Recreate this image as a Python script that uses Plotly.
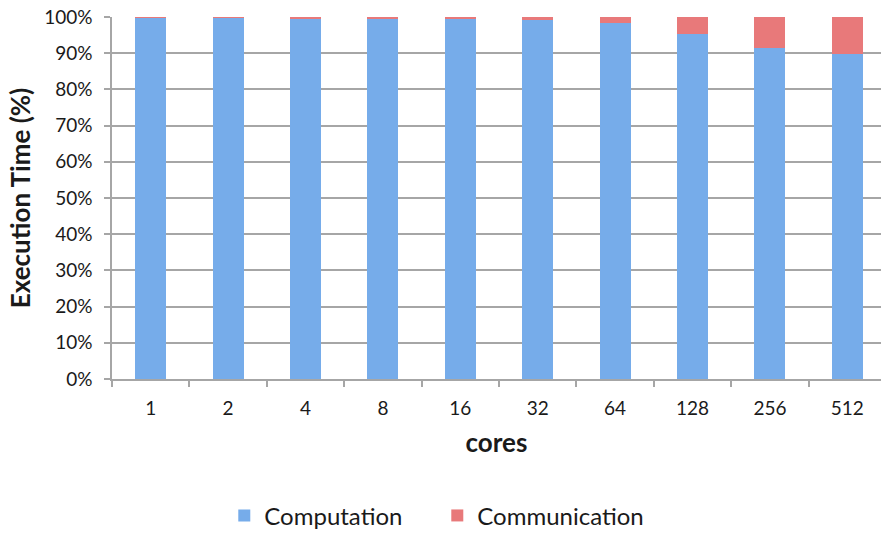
import plotly.graph_objects as go

# Share of total execution time per core count (percent)
cores = ["1", "2", "4", "8", "16", "32", "64", "128", "256", "512"]
computation = [99.9, 99.8, 99.7, 99.5, 99.4, 99.1, 98.3, 95.3, 91.3, 89.7]
communication = [0.1, 0.2, 0.3, 0.5, 0.6, 0.9, 1.7, 4.7, 8.7, 10.3]
y_ticks = list(range(0, 101, 10))
y_tick_labels = [f"{v}%" for v in y_ticks]

FONT = "Lato"
GRID = "#a6a6a6"

fig = go.Figure()
fig.add_trace(go.Bar(
    x=cores, y=computation, name="Computation",
    marker=dict(color="#76acea", line=dict(width=0)),
))
fig.add_trace(go.Bar(
    x=cores, y=communication, name="Communication",
    marker=dict(color="#e8797a", line=dict(width=0)),
))

fig.update_layout(
    width=881, height=533,
    barmode="stack",
    bargap=0.6,
    plot_bgcolor="white",
    paper_bgcolor="white",
    margin=dict(l=112, r=0, t=17, b=154, autoexpand=False),
    font=dict(family=FONT, size=18, color="#1a1a1a"),
    showlegend=True,
    legend=dict(
        orientation="h",
        x=0.423, xanchor="center",
        y=-0.378, yanchor="middle",
        font=dict(size=24, family=FONT, color="#1a1a1a"),
        itemsizing="constant",
        traceorder="normal",
        entrywidth=168, entrywidthmode="pixels",
    ),
    xaxis=dict(
        type="category",
        range=[-0.5, 9.435],
        automargin=False,
        showline=True, linecolor=GRID, linewidth=1.5,
        ticks="outside", tickson="boundaries", ticklen=6,
        tickcolor=GRID, tickwidth=1.5,
        showgrid=False,
        ticklabelstandoff=11,
        tickfont=dict(size=19, family=FONT),
        title=dict(text="<b>cores</b>", font=dict(size=26, family=FONT),
                   standoff=16),
    ),
    yaxis=dict(
        range=[0, 100],
        automargin=False,
        tickmode="array",
        tickvals=y_ticks,
        ticktext=y_tick_labels,
        showline=True, linecolor=GRID, linewidth=1.5,
        ticks="outside", ticklen=6, tickcolor=GRID, tickwidth=1.5,
        showgrid=True, gridcolor=GRID, gridwidth=1.5,
        zeroline=False,
        ticklabelstandoff=8,
        tickfont=dict(size=19, family=FONT),
        title=dict(text="<b>Execution Time (%)</b>",
                   font=dict(size=26, family=FONT), standoff=6),
    ),
)

fig.write_html("out.html")
